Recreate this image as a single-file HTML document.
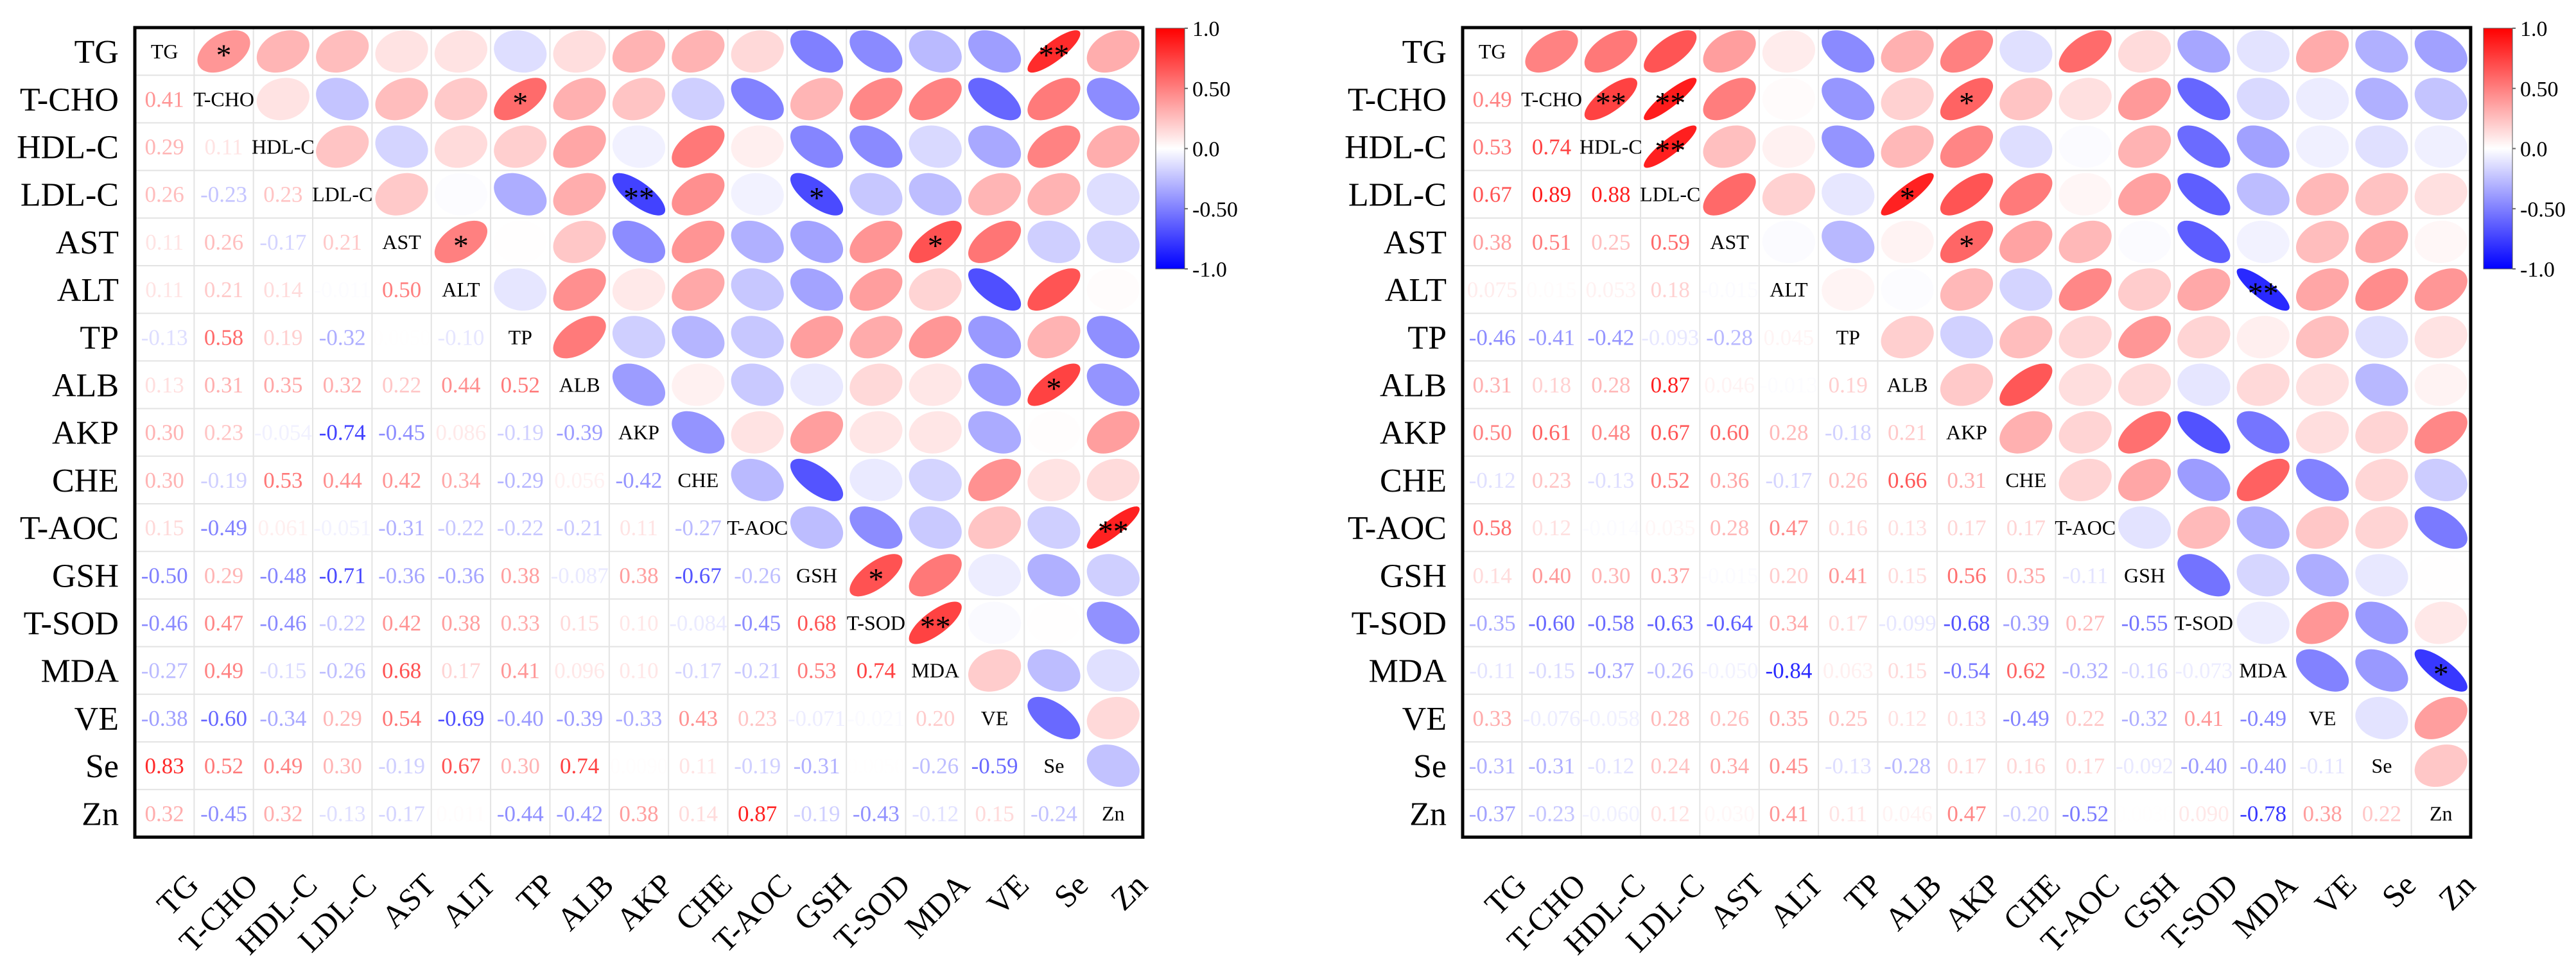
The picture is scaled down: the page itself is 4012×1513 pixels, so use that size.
<!DOCTYPE html>
<html><head><meta charset="utf-8"><title>Correlation matrices</title>
<style>
html,body{margin:0;padding:0;background:#fff;}
svg{display:block;}
text{font-family:"Liberation Serif","Times New Roman",serif;}
</style></head>
<body>
<svg id="chart" width="4012" height="1513" viewBox="0 0 4012 1513" xmlns="http://www.w3.org/2000/svg">
<defs>
<linearGradient id="cbar" x1="0" y1="0" x2="0" y2="1">
<stop offset="0" stop-color="#ff0000"/>
<stop offset="0.5" stop-color="#ffffff"/>
<stop offset="1" stop-color="#0000ff"/>
</linearGradient>
</defs>
</svg>
<script>
const variables = ["TG","T-CHO","HDL-C","LDL-C","AST","ALT","TP","ALB","AKP","CHE","T-AOC","GSH","T-SOD","MDA","VE","Se","Zn"];

const leftLower = [
 [],
 [0.41],
 [0.29,0.11],
 [0.26,-0.23,0.23],
 [0.11,0.26,-0.17,0.21],
 [0.11,0.21,0.14,-0.011,0.50],
 [-0.13,0.58,0.19,-0.32,0.005,-0.10],
 [0.13,0.31,0.35,0.32,0.22,0.44,0.52],
 [0.30,0.23,-0.054,-0.74,-0.45,0.086,-0.19,-0.39],
 [0.30,-0.19,0.53,0.44,0.42,0.34,-0.29,0.056,-0.42],
 [0.15,-0.49,0.061,-0.051,-0.31,-0.22,-0.22,-0.21,0.11,-0.27],
 [-0.50,0.29,-0.48,-0.71,-0.36,-0.36,0.38,-0.087,0.38,-0.67,-0.26],
 [-0.46,0.47,-0.46,-0.22,0.42,0.38,0.33,0.15,0.10,-0.084,-0.45,0.68],
 [-0.27,0.49,-0.15,-0.26,0.68,0.17,0.41,0.096,0.10,-0.17,-0.21,0.53,0.74],
 [-0.38,-0.60,-0.34,0.29,0.54,-0.69,-0.40,-0.39,-0.33,0.43,0.23,-0.071,-0.021,0.20],
 [0.83,0.52,0.49,0.30,-0.19,0.67,0.30,0.74,0.009,0.11,-0.19,-0.31,0.005,-0.26,-0.59],
 [0.32,-0.45,0.32,-0.13,-0.17,0.011,-0.44,-0.42,0.38,0.14,0.87,-0.19,-0.43,-0.12,0.15,-0.24]
];

const rightLower = [
 [],
 [0.49],
 [0.53,0.74],
 [0.67,0.89,0.88],
 [0.38,0.51,0.25,0.59],
 [0.075,0.015,0.053,0.18,-0.015],
 [-0.46,-0.41,-0.42,-0.093,-0.28,0.045],
 [0.31,0.18,0.28,0.87,0.046,-0.013,0.19],
 [0.50,0.61,0.48,0.67,0.60,0.28,-0.18,0.21],
 [-0.12,0.23,-0.13,0.52,0.36,-0.17,0.26,0.66,0.31],
 [0.58,0.12,-0.014,0.035,0.28,0.47,0.16,0.13,0.17,0.17],
 [0.14,0.40,0.30,0.37,-0.015,0.20,0.41,0.15,0.56,0.35,-0.11],
 [-0.35,-0.60,-0.58,-0.63,-0.64,0.34,0.17,-0.099,-0.68,-0.39,0.27,-0.55],
 [-0.11,-0.15,-0.37,-0.26,-0.050,-0.84,0.063,0.15,-0.54,0.62,-0.32,-0.16,-0.073],
 [0.33,-0.076,-0.058,0.28,0.26,0.35,0.25,0.12,0.13,-0.49,0.22,-0.32,0.41,-0.49],
 [-0.31,-0.31,-0.12,0.24,0.34,0.45,-0.13,-0.28,0.17,0.16,0.17,-0.092,-0.40,-0.40,-0.11],
 [-0.37,-0.23,-0.060,0.12,0.030,0.41,0.11,0.046,0.47,-0.20,-0.52,0.003,0.090,-0.78,0.38,0.22]
];

const leftStarRows = [0,0,1,3,3,4,4,7,10,11,12];
const leftStarCols = [1,15,6,8,11,5,13,15,16,12,13];
const leftStarMarks = ["*","**","*","**","*","*","*","*","**","*","**"];

const rightStarRows = [1,1,2,3,1,4,5,13];
const rightStarCols = [2,3,3,7,8,8,13,16];
const rightStarMarks = ["**","**","**","*","*","*","**","*"];

const colorbarTicks = [1.0,0.5,0.0,-0.5,-1.0];
const colorbarTickLabels = ["1.0","0.50","0.0","-0.50","-1.0"];

const NS = "http://www.w3.org/2000/svg";
const svg = document.getElementById("chart");
function mk(tag, attrs, parent){
  const e = document.createElementNS(NS, tag);
  for (const k in attrs) e.setAttribute(k, attrs[k]);
  (parent||svg).appendChild(e);
  return e;
}
function colorFor(v){
  const t = Math.min(1, Math.abs(v));
  const c = Math.round(255*(1-t));
  return v >= 0 ? `rgb(255,${c},${c})` : `rgb(${c},${c},255)`;
}
function fmt(v){
  if (Math.abs(v) >= 0.1) return v.toFixed(2);
  return v.toPrecision(2);
}

const N = variables.length;
const CW = 92.35, CH = 74.2, TOP = 43;

function drawPanel(x0, lower, sr, sc, sm, cbX, panelName){
  const g = mk("g", {});
  
  
  const xs = j => x0 + CW*(j+0.5);
  const ys = i => TOP + CH*(i+0.5);
  const val = (i,j) => i > j ? lower[i][j] : lower[j][i];

  // grid
  for (let k=1;k<N;k++){
    const vl = mk("line",{x1:x0+CW*k,y1:TOP,x2:x0+CW*k,y2:TOP+CH*N,stroke:"#e3e3e3","stroke-width":2},g);
    
    
    const hl = mk("line",{x1:x0,y1:TOP+CH*k,x2:x0+CW*N,y2:TOP+CH*k,stroke:"#e3e3e3","stroke-width":2},g);
    
    
  }

  for (let i=0;i<N;i++){
    for (let j=0;j<N;j++){
      const cx = xs(j), cy = ys(i);
      if (i===j){
        const t = mk("text",{x:cx,y:cy+11,"text-anchor":"middle","font-size":32,fill:"#000"},g);
        t.textContent = variables[i];
        
        
      } else if (i>j){
        const v = val(i,j);
        const s = fmt(v);
        const at = {x:cx,y:cy+12,"text-anchor":"middle","font-size":35,fill:colorFor(v)};
        if (s.length>=6){ at.textLength = 90; at.lengthAdjust = "spacingAndGlyphs"; }
        const t = mk("text",at,g);
        t.textContent = s;
        
        
      } else {
        const v = val(i,j);
        const r0 = 0.445;
        const e = mk("ellipse",{cx:0,cy:0,rx:r0*Math.sqrt(1+v),ry:r0*Math.sqrt(Math.max(0.0001,1-v)),fill:colorFor(v),
          transform:`translate(${cx},${cy}) scale(${CW},${CH}) rotate(-45)`},g);
        
        
      }
    }
  }
  // stars
  for (let k=0;k<sr.length;k++){
    const t = mk("text",{x:xs(sc[k]),y:ys(sr[k])+22,"text-anchor":"middle","font-size":48,fill:"#000"},g);
    t.textContent = sm[k];
    
    
  }
  // border
  const b = mk("rect",{x:x0,y:TOP,width:CW*N,height:CH*N,fill:"none",stroke:"#000","stroke-width":5},g);
  
  

  // row labels
  for (let i=0;i<N;i++){
    const t = mk("text",{x:x0-25,y:ys(i)+18,"text-anchor":"end","font-size":52,fill:"#000"},g);
    t.textContent = variables[i];
    
    
  }
  // column labels
  for (let j=0;j<N;j++){
    const px = xs(j)+56, py = 1382;
    const t = mk("text",{x:px,y:py,"text-anchor":"end","font-size":50,fill:"#000",transform:`rotate(-45 ${px} ${py})`},g);
    t.textContent = variables[j];
    
    
  }

  // colorbar
  const cbTop = 44, cbBot = 419, cbW = 45;
  const cy = v => cbTop + (1 - v)/2*(cbBot-cbTop);
  const cb = mk("rect",{x:cbX,y:cbTop,width:cbW,height:cbBot-cbTop,fill:"url(#cbar)",stroke:"#555","stroke-width":1},g);
  
  
  for (let k=0;k<colorbarTicks.length;k++){
    const y = cy(colorbarTicks[k]);
    const tk = mk("line",{x1:cbX+cbW,y1:y,x2:cbX+cbW+5,y2:y,stroke:"#666","stroke-width":2},g);
    
    
    const t = mk("text",{x:cbX+cbW+12,y:y+12,"font-size":34,fill:"#000"},g);
    t.textContent = colorbarTickLabels[k];
    
    
  }
}

drawPanel(210, leftLower, leftStarRows, leftStarCols, leftStarMarks, 1800, 'left-correlation-panel');
drawPanel(2278, rightLower, rightStarRows, rightStarCols, rightStarMarks, 3868, 'right-correlation-panel');
</script>
</body></html>
